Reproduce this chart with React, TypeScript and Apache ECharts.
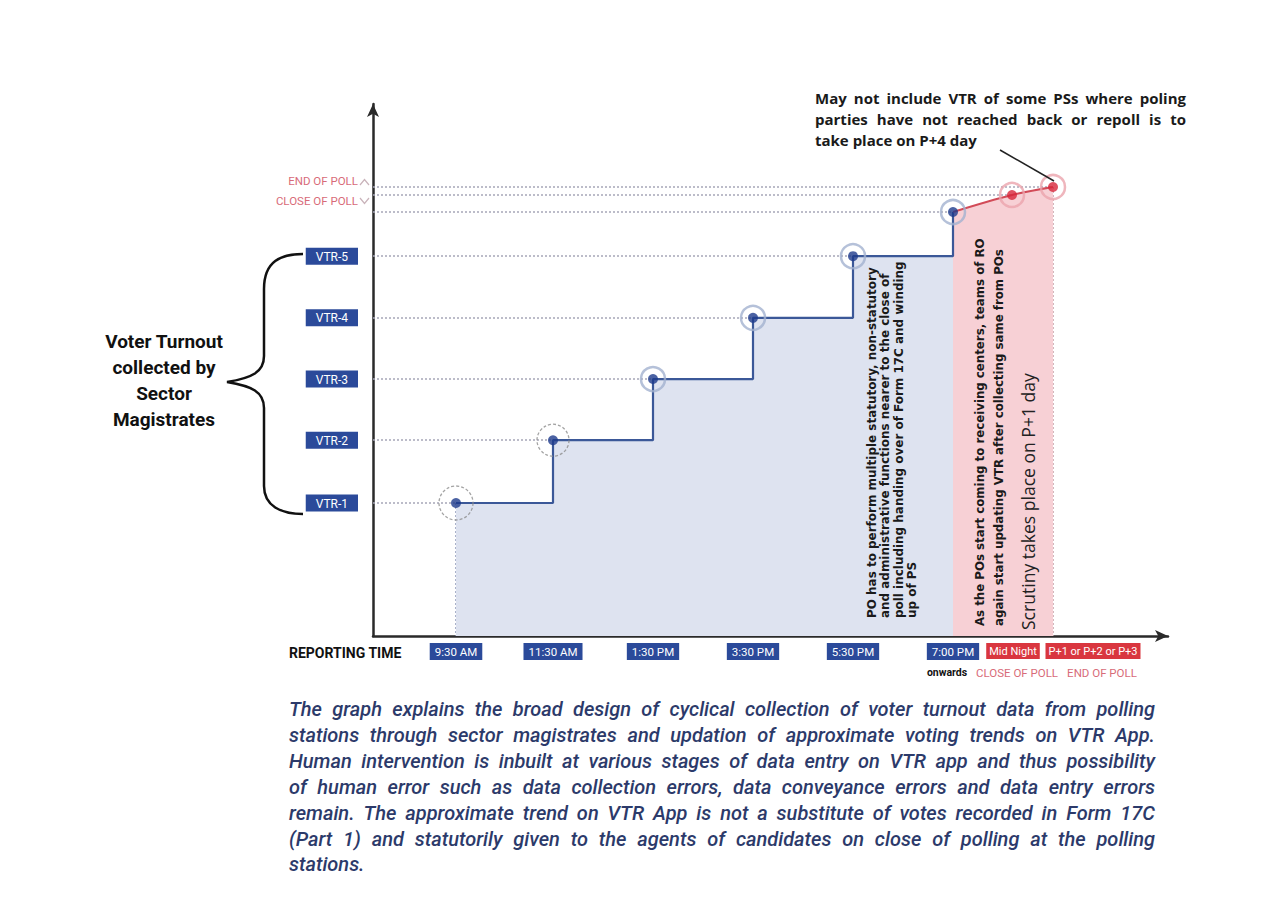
import React, { useEffect, useRef } from 'react';
import * as echarts from 'echarts';

// ---------- data ----------
const timeLabels = ['9:30 AM', '11:30 AM', '1:30 PM', '3:30 PM', '5:30 PM', '7:00 PM'];
const timeLabelX = [0.83, 1.8, 2.8, 3.8, 4.8, 5.8];
const lateLabels = ['Mid Night', 'P+1 or P+2 or P+3'];
const lateLabelX = [6.4, 7.2];
const subLabels = ['onwards', 'CLOSE OF POLL', 'END OF POLL'];
const subLabelX = [5.74, 6.44, 7.29];
const pointX = [0.83, 1.8, 2.8, 3.8, 4.8, 5.8, 6.39, 6.8];
const turnout = [25, 36.8, 48.3, 59.8, 71.4, 79.7, 82.9, 84.4];
const vtrLabels = ['VTR-1', 'VTR-2', 'VTR-3', 'VTR-4', 'VTR-5'];
const pollLabels = ['CLOSE OF POLL', 'END OF POLL'];
const pollLabelY = [81.8, 85.5];
const blueCount = 6; // points reported by sector magistrates + 7 PM

const noteLines = [
  'May not include VTR of  some PSs where poling',
  'parties have not reached back or repoll is to',
  'take place on P+4 day',
];
const poText = [
  'PO has to perform multiple statutory, non-statutory',
  'and administrative functions nearer to the close of',
  'poll including handing over of Form 17C and winding',
  'up of PS',
];
const roText = [
  'As the POs start coming to receiving centers, teams of RO',
  'again start updating VTR after collecting same from POs',
];
const scrutinyText = 'Scrutiny takes place on P+1 day';
const leftLabel = ['Voter Turnout', 'collected by', 'Sector', 'Magistrates'];
const captionLines = [
  'The graph explains the broad design of cyclical collection of voter turnout data from polling',
  'stations through sector magistrates and updation of approximate voting trends on VTR App.',
  'Human intervention is inbuilt at various stages of data entry on VTR app and thus possibility',
  'of human error such as data collection errors, data conveyance errors and data entry errors',
  'remain. The approximate trend on VTR App is not a substitute of votes recorded in Form 17C',
  '(Part 1) and statutorily given to the agents of candidates on close of polling at the polling',
  'stations.',
];

const BRACE_D =
  'M303,254 C281,254 264,261 264,289 L264,356 C264,372 252,378 227,382 C252,386 264,392 264,408 L264,486 C264,506 281,514 303,514';
echarts.graphic.registerShape('brace', echarts.graphic.extendPath(BRACE_D, {}));

// ---------- helpers ----------
let ctx: CanvasRenderingContext2D | null = null;
function measure(text: string, font: string) {
  if (!ctx) ctx = document.createElement('canvas').getContext('2d');
  ctx!.font = font;
  return ctx!.measureText(text).width;
}

function fitSize(lines: string[], width: number, weight: any, style: string, family: string, maxSize: number) {
  let best = maxSize;
  lines.forEach((l) => {
    const w = measure(l, `${style} ${weight} 20px ${family}`);
    const s = (20 * width) / w;
    if (s < best) best = s;
  });
  return best;
}

function justify(
  lines: string[],
  x: number,
  y: number,
  width: number,
  lineHeight: number,
  f: { size: number; weight: any; style: string; family: string; color: string }
) {
  const font = `${f.style} ${f.weight} ${f.size}px ${f.family}`;
  const els: any[] = [];
  lines.forEach((line, li) => {
    const cy = y + li * lineHeight;
    const base = {
      fontSize: f.size,
      fontWeight: f.weight,
      fontStyle: f.style,
      fontFamily: f.family,
      fill: f.color,
      align: 'left',
      verticalAlign: 'middle',
    };
    if (li === lines.length - 1) {
      els.push({ type: 'text', z: 100, x, y: cy, style: { ...base, text: line } });
      return;
    }
    const words = line.split(' ').filter(Boolean);
    const widths = words.map((w) => measure(w, font));
    const total = widths.reduce((a, b) => a + b, 0);
    const gap = (width - total) / (words.length - 1);
    let cx = x;
    words.forEach((w, i) => {
      els.push({ type: 'text', z: 100, x: cx, y: cy, style: { ...base, text: w } });
      cx += widths[i] + gap;
    });
  });
  return els;
}

function labelAxis(values: number[], texts: string[], styleName: string, margin: number, rich: any): any {
  return {
    type: 'value',
    min: 0,
    max: 7.95,
    position: 'bottom',
    offset: 0,
    splitLine: { show: false },
    axisTick: { show: false },
    axisLine: { show: false },
    axisLabel: {
      customValues: values,
      showMinLabel: true,
      showMaxLabel: true,
      hideOverlap: false,
      margin,
      formatter: (v: number) => {
        const i = values.findIndex((t) => Math.abs(t - v) < 1e-6);
        if (i < 0) return '';
        return `{${i === 0 && rich.on ? 'on' : styleName}|${texts[i]}}`;
      },
      rich,
    },
  };
}

function buildOption(): any {
  const pts = pointX.map((x, i) => [x, turnout[i]]);
  const bluePts = pts.slice(0, blueCount);
  const redPts = pts.slice(blueCount - 1);

  const guideData: any[] = [];
  pts.forEach((p, i) => {
    guideData.push([
      { coord: [0, p[1]], lineStyle: { color: '#a7a7b8', width: 1.5, type: [2, 2] } },
      { coord: [p[0], p[1]] },
    ]);
    guideData.push([
      { coord: [p[0], p[1]], lineStyle: { color: i < blueCount ? '#8e99ba' : '#c49ea6', width: 1.5, type: [2, 2] } },
      { coord: [p[0], 0] },
    ]);
  });

  const ringData = pts.map((p, i) => {
    if (i < 2)
      return {
        value: p,
        symbolSize: i === 0 ? 34 : 32,
        itemStyle: { color: 'rgba(0,0,0,0)', borderColor: '#8d8d8d', borderWidth: 1.3, borderType: [3, 2] },
      };
    return {
      value: p,
      symbolSize: 24,
      itemStyle: {
        color: 'rgba(0,0,0,0)',
        borderColor: i < blueCount ? '#a3b1cf' : '#eba4ac',
        borderWidth: 2.5,
      },
    };
  });
  const dotData = pts.map((p, i) => ({
    value: p,
    itemStyle: { color: i < blueCount ? '#1e3b8c' : '#d7263a' },
  }));

  const yLabelValues = [...turnout.slice(0, vtrLabels.length), ...pollLabelY];
  const yLabelTexts = [...vtrLabels.map((t) => `{v|${t}}`), ...pollLabels.map((t) => `{pk|${t}}`)];

  const capSize = fitSize(captionLines.slice(0, -1), 860, 500, 'italic', 'Roboto', 20);
  const noteSize = fitSize(noteLines.slice(0, 1), 366, 'bold', 'normal', 'Open Sans', 15);
  const vFamily = 'DejaVu Sans';
  const poSize = fitSize(poText, 357, 'bold', 'normal', vFamily, 16);
  const roSize = fitSize(roText, 388, 'bold', 'normal', vFamily, 16);
  const scSize = fitSize([scrutinyText], 257, 'normal', 'normal', 'Open Sans', 20);

  const graphics: any[] = [
    { type: 'brace', z: 100, x: 0, y: 0, style: { stroke: '#111', lineWidth: 2.5, fill: 'none' } },
    {
      type: 'text',
      z: 100,
      x: 164,
      y: 328,
      style: {
        text: leftLabel.join('\n'),
        fontSize: 19,
        fontWeight: 'bold',
        fontFamily: 'Roboto',
        fill: '#111',
        align: 'center',
        verticalAlign: 'top',
        lineHeight: 26,
      },
    },
    {
      type: 'text',
      z: 100,
      x: 289,
      y: 653,
      style: { text: 'REPORTING TIME', fontSize: 14, fontWeight: 'bold', fontFamily: 'Roboto', fill: '#111', verticalAlign: 'middle' },
    },
    { type: 'polyline', z: 100, shape: { points: [[360, 185], [364.5, 179.5], [369, 185]] }, style: { stroke: '#c9b3ba', lineWidth: 1.2, fill: 'none' } },
    { type: 'polyline', z: 100, shape: { points: [[360, 198], [364.5, 203.5], [369, 198]] }, style: { stroke: '#c9b3ba', lineWidth: 1.2, fill: 'none' } },
    { type: 'line', z: 100, shape: { x1: 1000, y1: 150, x2: 1054, y2: 181 }, style: { stroke: '#222', lineWidth: 1.5 } },
    {
      type: 'text',
      z: 100,
      x: 865.5,
      y: 618,
      rotation: Math.PI / 2,
      style: {
        text: poText.join('\n'),
        fontSize: poSize,
        fontWeight: 'bold',
        fontFamily: vFamily,
        fill: '#1a1a1a',
        align: 'left',
        verticalAlign: 'top',
        lineHeight: 13.3,
      },
    },
    {
      type: 'text',
      z: 100,
      x: 970.5,
      y: 626,
      rotation: Math.PI / 2,
      style: {
        text: roText.join('\n'),
        fontSize: roSize,
        fontWeight: 'bold',
        fontFamily: vFamily,
        fill: '#1a1a1a',
        align: 'left',
        verticalAlign: 'top',
        lineHeight: 19,
      },
    },
    {
      type: 'text',
      z: 100,
      x: 1028,
      y: 630,
      rotation: Math.PI / 2,
      style: {
        text: scrutinyText,
        fontSize: scSize,
        fontFamily: 'Open Sans',
        fill: '#222',
        align: 'left',
        verticalAlign: 'middle',
      },
    },
    ...justify(noteLines, 815, 98, 371, 21, { size: noteSize, weight: 'bold', style: 'normal', family: 'Open Sans', color: '#1a1a1a' }),
    ...justify(captionLines, 289, 709, 866, 25.9, { size: capSize, weight: 500, style: 'italic', family: 'Roboto', color: '#2c3a6a' }),
  ];

  const boxStyle = { color: '#fff', fontSize: 11.5, fontFamily: 'Roboto', padding: [3, 5, 2, 5] };
  const redBox = { color: '#fff', fontSize: 11, fontFamily: 'Roboto', padding: [3, 3, 2, 3], backgroundColor: '#d9363f' };

  return {
    animation: false,
    backgroundColor: '#ffffff',
    grid: { left: 373, top: 104, right: 112, bottom: 269, containLabel: false },
    xAxis: [
      {
        type: 'value',
        min: 0,
        max: 7.95,
        position: 'bottom',
        splitLine: { show: false },
        axisTick: { show: false },
        axisLine: { show: true, symbol: ['none', 'arrow'], symbolSize: [9, 13], lineStyle: { color: '#2a2a2a', width: 2.5 } },
        axisLabel: {
          customValues: timeLabelX,
          showMinLabel: true,
          showMaxLabel: true,
          hideOverlap: false,
          margin: 7,
          formatter: (v: number) => {
            const i = timeLabelX.findIndex((t) => Math.abs(t - v) < 1e-6);
            return i < 0 ? '' : `{b|${timeLabels[i]}}`;
          },
          rich: { b: { ...boxStyle, backgroundColor: '#2b4a9a' } },
        },
      },
      labelAxis(lateLabelX, lateLabels, 'r', 7, { r: redBox }),
      labelAxis(subLabelX, subLabels, 'pk', 31, {
        on: { color: '#111', fontWeight: 'bold', fontSize: 10.5, fontFamily: 'Roboto' },
        pk: { color: '#d86b79', fontSize: 11.5, fontFamily: 'Roboto' },
      }),
    ],
    yAxis: {
      type: 'value',
      min: 0,
      max: 100,
      splitLine: { show: false },
      axisTick: { show: false },
      axisLine: { show: true, symbol: ['none', 'arrow'], symbolSize: [9, 13], lineStyle: { color: '#2a2a2a', width: 2.5 } },
      axisLabel: {
        customValues: yLabelValues,
        showMinLabel: true,
        showMaxLabel: true,
        margin: 15,
        formatter: (v: number) => {
          const i = yLabelValues.findIndex((t) => Math.abs(t - v) < 1e-6);
          return i < 0 ? '' : yLabelTexts[i];
        },
        rich: {
          v: { backgroundColor: '#2b4a9a', color: '#fff', fontSize: 12, fontFamily: 'Roboto', padding: [3, 10, 2, 10] },
          pk: { color: '#d86b79', fontSize: 11.5, fontFamily: 'Roboto' },
        },
      },
    },
    series: [
      {
        type: 'line',
        name: 'VTR step',
        data: bluePts,
        step: 'end',
        showSymbol: false,
        lineStyle: { color: '#3b5898', width: 2.2 },
        areaStyle: { color: '#dee3f0', opacity: 1 },
        z: 5,
      },
      {
        type: 'line',
        name: 'After close',
        data: redPts,
        smooth: 0.35,
        showSymbol: false,
        lineStyle: { color: '#d24b58', width: 2 },
        areaStyle: { color: '#f7d0d5', opacity: 1 },
        z: 5,
      },
      {
        type: 'line',
        name: 'guides',
        data: pts,
        showSymbol: false,
        lineStyle: { opacity: 0 },
        z: 4,
        markLine: { silent: true, symbol: ['none', 'none'], label: { show: false }, animation: false, data: guideData },
      },
      { type: 'scatter', name: 'rings', data: ringData, z: 6, silent: true },
      { type: 'scatter', name: 'points', data: dotData, symbolSize: 10, z: 7, silent: true },
    ],
    graphic: { elements: graphics },
  };
}

export default function App() {
  const ref = useRef<HTMLDivElement>(null);
  useEffect(() => {
    const chart = echarts.init(ref.current!, null, { renderer: 'svg' });
    chart.setOption(buildOption());
    return () => chart.dispose();
  }, []);
  return <div ref={ref} style={{ position: 'absolute', left: 0, top: 0, width: 1280, height: 905, background: '#fff' }} />;
}
